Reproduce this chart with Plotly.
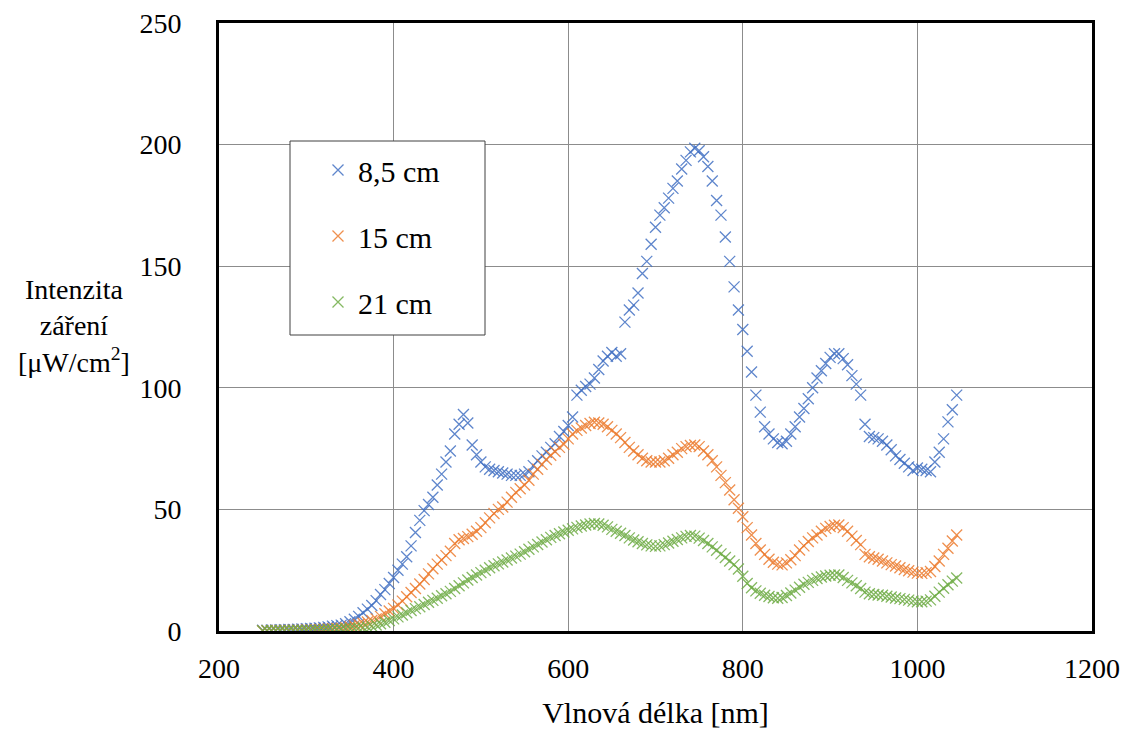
import plotly.graph_objects as go

wavelength = list(range(250, 1050, 5))

blue_85cm = [
    0.3, 0.3, 0.4, 0.4, 0.5, 0.5, 0.6, 0.6, 0.7, 0.8,          # 250-295
    0.9, 1.0, 1.1, 1.3, 1.5, 1.7, 2.0, 2.2, 2.4, 3.0,          # 300-345
    3.8, 4.8, 6.0, 7.5, 9.0, 10.5, 12.5, 15.0, 17.0, 19.5,     # 350-395
    22.0, 25.0, 27.5, 30.5, 35.0, 40.5, 45.5, 49.5, 52.0, 55.0,  # 400-445
    60.0, 64.5, 69.5, 74.0, 81.0, 85.0, 89.0, 85.5, 76.5, 72.5,  # 450-495
    69.5, 67.5, 66.5, 66.0, 65.5, 65.0, 64.5, 64.0, 64.0, 64.0,  # 500-545
    64.5, 65.5, 68.0, 70.0, 72.0, 73.5, 75.5, 77.0, 80.0, 82.0,  # 550-595
    84.5, 88.0, 97.0, 99.0, 100.5, 101.5, 104.0, 107.5, 111.0, 113.0,  # 600-645
    114.5, 113.0, 114.0, 127.0, 132.0, 134.0, 139.0, 147.0, 152.0, 159.0,  # 650-695
    166.0, 171.0, 174.0, 178.0, 182.0, 185.0, 190.0, 193.5, 197.0, 198.5,  # 700-745
    197.5, 195.0, 191.0, 185.0, 177.0, 171.0, 162.0, 152.0, 141.5, 132.0,  # 750-795
    124.0, 115.0, 106.5, 97.0, 90.0, 84.0, 81.0, 79.0, 77.5, 77.0,  # 800-845
    78.0, 81.0, 84.0, 88.0, 91.5, 95.5, 100.0, 104.0, 107.0, 110.0,  # 850-895
    112.5, 114.0, 114.0, 112.0, 109.5, 105.0, 101.5, 97.0, 85.0, 80.0,  # 900-945
    79.5, 79.0, 78.0, 76.5, 74.5, 72.0, 70.5, 69.0, 67.5, 66.0,  # 950-995
    67.0, 66.5, 66.0, 65.5, 69.5, 73.5, 79.0, 86.0, 91.0, 97.0,  # 1000-1045
]

orange_15cm = [
    0.1, 0.1, 0.1, 0.2, 0.2, 0.2, 0.2, 0.3, 0.3, 0.3,          # 250-295
    0.4, 0.4, 0.5, 0.6, 0.7, 0.8, 0.9, 1.0, 1.1, 1.4,          # 300-345
    1.8, 2.2, 2.7, 3.2, 3.7, 4.3, 5.0, 6.0, 7.1, 8.2,          # 350-395
    9.3, 10.7, 12.3, 14.1, 15.8, 17.5, 19.3, 21.2, 23.5, 25.6,  # 400-445
    27.5, 29.2, 31.0, 32.8, 36.0, 37.5, 38.0, 38.8, 39.8, 41.0,  # 450-495
    42.5, 44.5, 46.5, 48.3, 50.0, 51.0, 53.0, 55.0, 57.0, 58.5,  # 500-545
    60.0, 62.0, 64.5, 66.5, 68.5, 70.5, 72.3, 73.8, 75.5, 76.8,  # 550-595
    79.0, 81.0, 82.5, 83.5, 84.5, 85.3, 85.8, 85.5, 85.0, 84.0,  # 600-645
    82.5, 81.0, 79.5, 77.5, 75.5, 74.0, 72.5, 71.0, 70.0, 69.5,  # 650-695
    69.5, 69.5, 70.0, 71.0, 72.5, 73.5, 75.0, 75.8, 76.3, 76.5,  # 700-745
    75.8, 74.0, 72.5, 70.0, 67.5, 64.0, 61.0, 58.0, 54.0, 50.5,  # 750-795
    47.0, 42.5, 39.5, 36.0, 33.3, 31.5, 29.5, 28.3, 27.5, 27.2,  # 800-845
    28.0, 29.3, 31.0, 33.3, 35.0, 36.8, 38.3, 39.5, 41.0, 42.2,  # 850-895
    43.0, 43.5, 43.6, 42.5, 41.0, 39.0, 37.2, 35.5, 31.5, 30.5,  # 900-945
    30.0, 29.5, 28.8, 28.0, 27.3, 26.7, 26.0, 25.3, 24.8, 24.2,  # 950-995
    23.8, 23.7, 24.0, 24.5, 26.5, 28.8, 31.5, 34.0, 37.0, 39.5,  # 1000-1045
]

green_21cm = [
    0.1, 0.1, 0.1, 0.1, 0.1, 0.1, 0.1, 0.2, 0.2, 0.2,          # 250-295
    0.2, 0.2, 0.3, 0.3, 0.4, 0.5, 0.5, 0.6, 0.7, 0.8,          # 300-345
    0.9, 1.0, 1.2, 1.4, 1.6, 2.0, 2.5, 3.0, 3.6, 4.3,          # 350-395
    5.0, 5.8, 6.6, 7.5, 8.4, 9.2, 10.0, 10.9, 11.8, 12.6,      # 400-445
    13.5, 14.5, 15.3, 16.3, 17.5, 18.6, 19.8, 21.0, 22.0, 23.0,  # 450-495
    24.0, 25.0, 26.0, 26.8, 27.6, 28.4, 29.2, 30.0, 30.8, 31.6,  # 500-545
    32.6, 33.6, 34.6, 35.6, 36.6, 37.5, 38.5, 39.3, 40.0, 40.7,  # 550-595
    41.4, 42.0, 42.6, 43.2, 43.6, 44.0, 44.2, 44.0, 43.5, 42.8,  # 600-645
    41.8, 41.0, 40.2, 39.3, 38.3, 37.4, 36.7, 36.0, 35.4, 35.0,  # 650-695
    34.8, 35.0, 35.5, 36.2, 36.9, 37.6, 38.3, 38.9, 39.3, 39.0,  # 700-745
    38.2, 37.2, 36.0, 34.6, 33.2, 31.7, 30.2, 28.8, 27.3, 25.5,  # 750-795
    22.5, 19.5, 17.8, 16.5, 15.5, 14.7, 14.2, 13.7, 13.5, 13.8,  # 800-845
    14.6, 15.6, 16.8, 18.0, 19.2, 20.0, 20.8, 21.6, 22.2, 22.6,  # 850-895
    22.9, 23.0, 23.0, 22.0, 20.8, 19.8, 18.6, 17.5, 16.0, 15.3,  # 900-945
    15.0, 14.8, 14.7, 14.3, 14.0, 13.6, 13.3, 13.0, 12.7, 12.3,  # 950-995
    12.0, 12.0, 12.3, 12.8, 14.3, 16.0, 17.6, 19.0, 20.5, 21.8,  # 1000-1045
]

series_names = ["8,5 cm", "15 cm", "21 cm"]
series_colors = ["#4472C4", "#ED7D31", "#70AD47"]
series_values = [blue_85cm, orange_15cm, green_21cm]

x_ticks = [200, 400, 600, 800, 1000, 1200]
y_ticks = [0, 50, 100, 150, 200, 250]

FONT = "Liberation Serif, Times New Roman, serif"

fig = go.Figure()
for i, (name, color, vals) in enumerate(zip(series_names, series_colors, series_values)):
    fig.add_trace(go.Scatter(
        x=wavelength, y=vals, name=name, mode="markers",
        legendgroup=f"g{i}",
        marker=dict(symbol="x-thin", size=11, color=color,
                    line=dict(width=1.3, color=color), opacity=0.85),
    ))

# plot area in pixels: x 219..1092, y 23..631
def px_x(p):
    return (p - 219) / 873.0

def px_y(p):
    return (631 - p) / 608.0

fig.update_layout(
    width=1133, height=731,
    margin=dict(l=219, r=41, t=23, b=100, pad=0, autoexpand=False),
    paper_bgcolor="white", plot_bgcolor="white",
    font=dict(family=FONT, size=28, color="black"),
    showlegend=True,
    legend=dict(
        x=px_x(290), y=px_y(144), xanchor="left", yanchor="top",
        bgcolor="rgba(0,0,0,0)", borderwidth=0,
        font=dict(family=FONT, size=30, color="black"),
        tracegroupgap=24, indentation=28, itemwidth=30,
    ),
    xaxis=dict(
        range=[200, 1200], tickvals=x_ticks, ticktext=[str(v) for v in x_ticks],
        showgrid=True, gridcolor="#8c8c8c", gridwidth=1,
        showline=True, linecolor="black", linewidth=3, mirror=True,
        zeroline=False, ticks="", ticklabelstandoff=10, automargin=False,
        tickfont=dict(family=FONT, size=28),
        title=dict(text="Vlnová délka [nm]", font=dict(family=FONT, size=30), standoff=20),
    ),
    yaxis=dict(
        range=[0, 250], tickvals=y_ticks, ticktext=[str(v) for v in y_ticks],
        showgrid=True, gridcolor="#8c8c8c", gridwidth=1,
        showline=True, linecolor="black", linewidth=3, mirror=True,
        zeroline=False, ticks="", ticklabelstandoff=29, automargin=False,
        tickfont=dict(family=FONT, size=28),
    ),
)

# legend frame
fig.add_shape(
    type="rect", xref="paper", yref="paper",
    x0=px_x(290), x1=px_x(485), y0=px_y(335), y1=px_y(141),
    line=dict(color="#404040", width=1), fillcolor="white", layer="above",
)

fig.add_annotation(
    text="Intenzita<br>záření<br>[μW/cm<sup>2</sup>]",
    xref="paper", yref="paper", x=px_x(74), y=px_y(326), xanchor="center", yanchor="middle",
    showarrow=False, align="center",
    font=dict(family=FONT, size=28, color="black"),
)

fig.write_html("out.html", post_script="document.body.style.margin='0';",
               config={"displayModeBar": False})
